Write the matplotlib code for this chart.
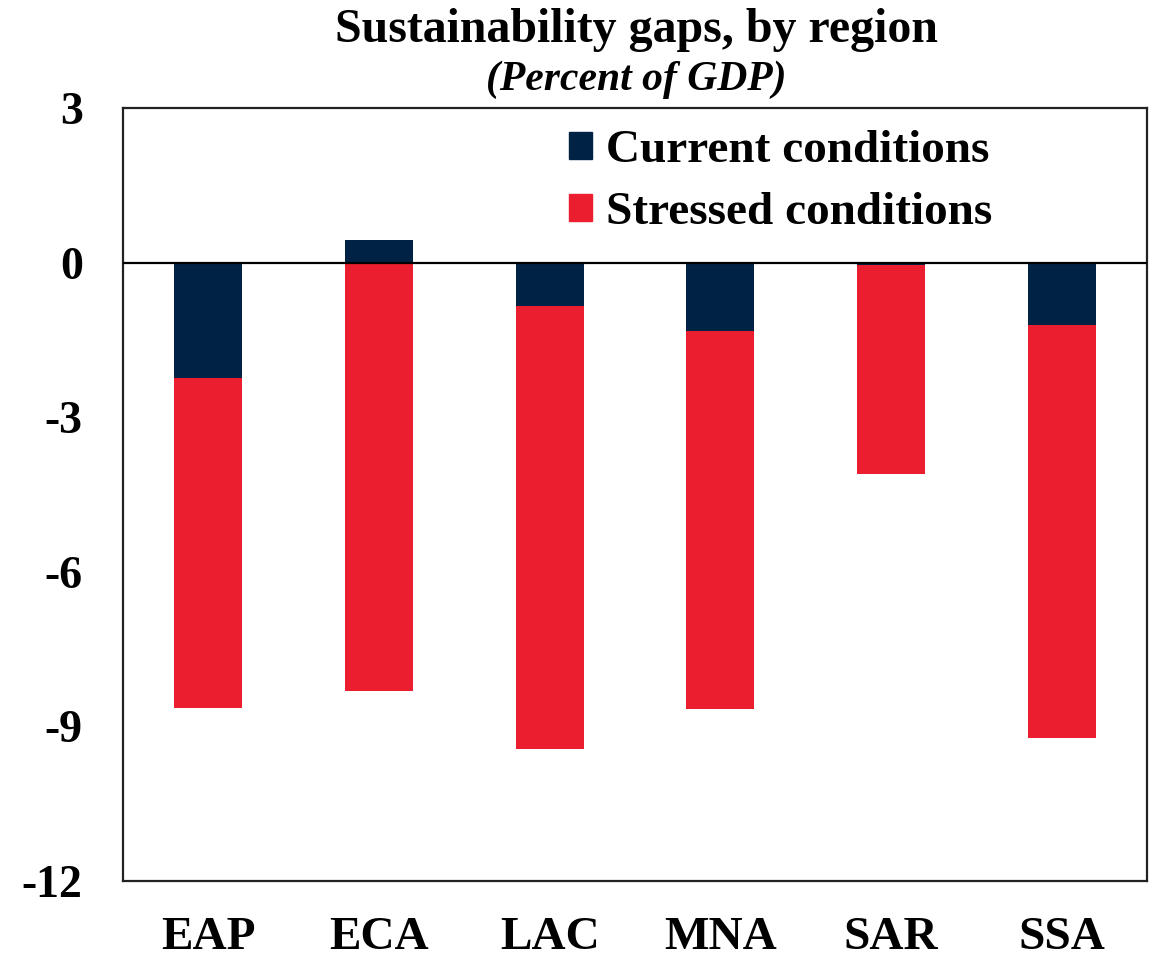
import numpy as np
import matplotlib.pyplot as plt
from matplotlib.patches import Patch

regions = ["EAP", "ECA", "LAC", "MNA", "SAR", "SSA"]
current = [-2.24, 0.44, -0.84, -1.32, -0.04, -1.21]
stressed = [-8.64, -8.31, -9.43, -8.67, -4.10, -9.23]

navy = "#002244"
red = "#EB1E30"

plt.rcParams["font.family"] = ["Liberation Serif", "DejaVu Serif"]
plt.rcParams["font.weight"] = "bold"
plt.rcParams["axes.unicode_minus"] = False

fig = plt.figure(figsize=(11.53, 9.59), dpi=100)
ax = fig.add_axes([123 / 1153, 1 - 881 / 959, 1024 / 1153, 773 / 959])

x = np.arange(len(regions))
ax.bar(x, stressed, width=0.4, color=red, zorder=2)
ax.bar(x, current, width=0.4, color=navy, zorder=3)
ax.axhline(0, color="black", linewidth=1.6, zorder=4)

ax.set_xlim(-0.5, len(regions) - 0.5)
ax.set_ylim(-12, 3)
ax.set_yticks([3, 0, -3, -6, -9, -12])
ax.set_xticks(x)
ax.set_xticklabels(regions, fontsize=34, fontweight="bold")
ax.tick_params(axis="both", length=0)
ax.tick_params(axis="x", pad=26)
ax.tick_params(axis="y", pad=29, labelsize=33)
for lab in ax.get_yticklabels():
    lab.set_fontweight("bold")
for s in ax.spines.values():
    s.set_linewidth(1.6)
    s.set_color("#222222")

handles = [Patch(color=navy, label="Current conditions"),
           Patch(color=red, label="Stressed conditions")]
ax.legend(handles=handles, loc="upper right", bbox_to_anchor=(0.877, 1.008),
          frameon=False, fontsize=34, handlelength=0.5, handleheight=0.5,
          handletextpad=0.3, labelspacing=0.42, borderaxespad=0.2)

fig.text(0.552, 1 - 30 / 959, "Sustainability gaps, by region", ha="center",
         va="center", fontsize=34.5, fontweight="bold")
fig.text(0.552, 1 - 80 / 959, "(Percent of GDP)", ha="center", va="center",
         fontsize=30, fontweight="bold", style="italic")

fig.savefig("out.png", dpi=100)
